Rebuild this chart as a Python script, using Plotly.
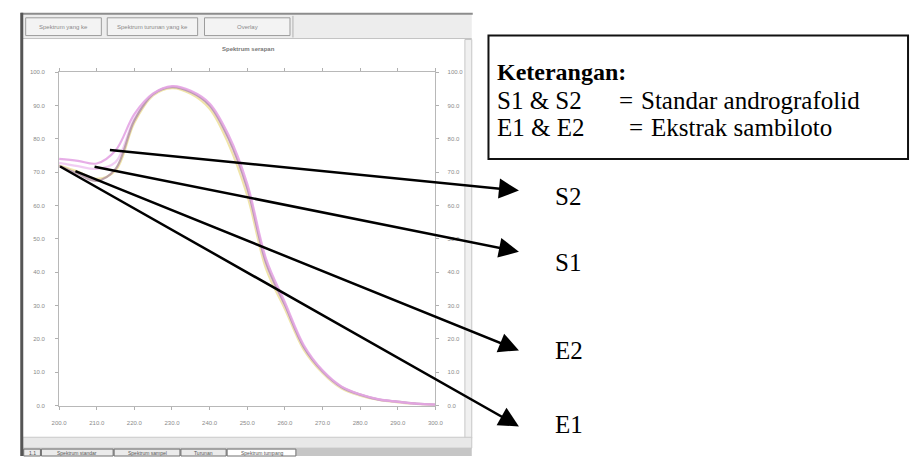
import numpy as np
import plotly.graph_objects as go

W, H = 918, 459

# UV spectra (wavelength in nm, absorbance-like intensity)
wavelength = list(range(200, 301, 5))
s1 = [72.8, 71.8, 71.0, 73.0, 86.0, 93.3, 95.6, 94.0, 90.0, 80.0, 65.0,
      42.5, 30.0, 17.5, 10.2, 5.5, 3.2, 1.8, 1.1, 0.5, 0.2]
s2 = [74.0, 73.4, 72.6, 76.5, 87.4, 93.6, 95.8, 94.4, 90.6, 81.2, 66.5,
      44.0, 31.0, 18.2, 10.6, 5.8, 3.4, 1.9, 1.2, 0.6, 0.3]
e1 = [71.9, 69.5, 67.4, 71.0, 85.5, 93.4, 95.5, 94.0, 90.0, 80.2, 65.2,
      42.8, 30.2, 17.6, 10.3, 5.6, 3.3, 1.8, 1.2, 0.6, 0.3]
e2 = [72.0, 70.2, 68.0, 70.5, 84.8, 93.0, 95.2, 93.5, 89.0, 78.5, 63.0,
      41.0, 29.0, 16.8, 9.8, 5.2, 3.0, 1.7, 1.0, 0.5, 0.2]

x_ticks = list(range(200, 301, 10))
y_ticks = list(range(0, 101, 10))

series = {"E2": e2, "S1": s1, "E1": e1, "S2": s2}
colors = {"E2": "rgba(238,226,160,0.9)", "S1": "rgba(240,200,242,0.9)",
          "E1": "rgba(175,145,160,0.8)", "S2": "rgba(228,165,228,0.9)"}
# wavelength where each pointer arrow leaves its curve
arrow_from = {"S2": 215, "S1": 211, "E2": 206, "E1": 202}
# arrow head / label placement (pixels)
arrow_to = {"S2": (520, 190), "S1": (520, 252), "E2": (520, 352), "E1": (520, 429)}
label_y = {"S2": 196, "S1": 263, "E2": 352, "E1": 427}

# plot area in pixels
PX0, PX1, PY0, PY1 = 52, 435, 70, 408
LEGEND_FONT = 25


def fx(p):
    return p / W


def fy(p):
    return 1 - p / H


def to_px(xv, yv):
    xp = PX0 + (xv - 200) / 100 * (PX1 - PX0)
    yp = PY1 - yv / 100 * (PY1 - PY0)
    return xp, yp


fig = go.Figure()
for name, vals in series.items():
    fig.add_trace(go.Scatter(
        x=wavelength, y=vals, mode="lines", name=name,
        line=dict(color=colors[name], width=2.2, shape="spline", smoothing=1.0),
        hoverinfo="skip", showlegend=False))
# companion trace for the right-hand axis
fig.add_trace(go.Scatter(x=wavelength, y=s2, mode="lines", yaxis="y2",
                         line=dict(color="rgba(0,0,0,0)"), hoverinfo="skip",
                         showlegend=False))

tick_font = dict(family="Arial", size=6, color="#8a8a8a")
axis_common = dict(showgrid=False, zeroline=False, showline=True,
                   linecolor="#b8b8b8", linewidth=1, ticks="outside",
                   ticklen=3, tickcolor="#b0b0b0", tickfont=tick_font,
                   fixedrange=True)

fig.update_layout(
    width=W, height=H, margin=dict(l=0, r=0, t=0, b=0),
    paper_bgcolor="white", plot_bgcolor="white",
    xaxis=dict(domain=[fx(PX0), fx(PX1)], range=[200, 300],
               tickvals=x_ticks, ticktext=[f"{v:.1f}" for v in x_ticks],
               mirror="ticks", ticklabelstandoff=8, **axis_common),
    yaxis=dict(domain=[fy(PY1), fy(PY0)], range=[0, 100],
               tickvals=y_ticks, ticktext=[f"{v:.1f}" for v in y_ticks],
               ticklabelstandoff=9, **axis_common),
    yaxis2=dict(overlaying="y", side="right", anchor="x", range=[0, 100],
                tickvals=y_ticks, ticktext=[f"{v:.1f}" for v in y_ticks],
                ticklabelstandoff=7, **axis_common),
)

shapes = []


def rect(x0, y0, x1, y1, fill, line="rgba(0,0,0,0)", lw=1, layer="below"):
    shapes.append(dict(type="rect", xref="paper", yref="paper",
                       x0=fx(x0), x1=fx(x1), y0=fy(y1), y1=fy(y0),
                       fillcolor=fill, line=dict(color=line, width=lw),
                       layer=layer))


def hline(x0, x1, y, color, lw=1):
    shapes.append(dict(type="line", xref="paper", yref="paper",
                       x0=fx(x0), x1=fx(x1), y0=fy(y), y1=fy(y),
                       line=dict(color=color, width=lw), layer="below"))


def vline(x, y0, y1, color, lw=1):
    shapes.append(dict(type="line", xref="paper", yref="paper",
                       x0=fx(x), x1=fx(x), y0=fy(y0), y1=fy(y1),
                       line=dict(color=color, width=lw), layer="below"))


# application window chrome
rect(15, 11, 472, 36, "#ededed")
hline(13, 473, 11, "#8c8c8c", 2)
hline(15, 472, 36, "#c4c4c4", 1)
for bx0, bx1 in [(18, 95), (101, 193), (200, 287)]:
    rect(bx0, 15, bx1, 33, "#f3f3f3", "#9c9c9c", 1)
vline(290, 13, 35, "#b0b0b0", 1)
rect(465, 37, 472, 441, "#f0f0f0", "#c6c6c6", 1)
rect(15, 440, 472, 451, "#e8e8e8", "#c8c8c8", 1)
rect(15, 451, 472, 459, "#c6c6c6")
tabs = [(16, 33, "1.1"), (34, 107, "Spektrum standar"),
        (108, 175, "Spektrum sampel"), (176, 222, "Turunan"),
        (223, 293, "Spektrum tumpang")]
for i, (tx0, tx1, _) in enumerate(tabs):
    rect(tx0, 452, tx1, 459, "white" if i == len(tabs) - 1 else "#ebebeb",
         "#707070", 1)
vline(14, 10, 459, "#555555", 3)

# legend box
rect(489, 33, 916, 158, "white", "#111111", 2, layer="above")

annotations = []


def text(x, y, s, size, color="black", family="Liberation Serif",
         xanchor="left"):
    annotations.append(dict(xref="paper", yref="paper", x=fx(x), y=fy(y),
                            text=s, showarrow=False, xanchor=xanchor,
                            yanchor="middle",
                            font=dict(family=family, size=size, color=color)))


for (bx0, bx1), lbl in zip([(18, 95), (101, 193), (200, 287)],
                           ["Spektrum yang ke", "Spektrum turunan yang ke",
                            "Overlay"]):
    text((bx0 + bx1) / 2, 24, lbl, 6, "#8a8a8a", "Arial", "center")
text(245, 47, "<b>Spektrum serapan</b>", 6, "#777777", "Arial", "center")
for tx0, tx1, lbl in tabs:
    text((tx0 + tx1) / 2, 455.5, lbl, 5, "#555555", "Arial", "center")

text(496, 70, "<b>Keterangan:</b>", LEGEND_FONT - 1)
text(496, 99, "S1 &amp; S2", LEGEND_FONT)
text(620, 99, "=", LEGEND_FONT)
text(642, 99, "Standar andrografolid", LEGEND_FONT)
text(496, 126, "E1 &amp; E2", LEGEND_FONT)
text(630, 126, "=", LEGEND_FONT)
text(652, 126, "Ekstrak sambiloto", LEGEND_FONT)

for name in ["S2", "S1", "E2", "E1"]:
    xv = arrow_from[name]
    yv = float(np.interp(xv, wavelength, series[name]))
    tx, ty = to_px(xv, yv)
    hx, hy = arrow_to[name]
    annotations.append(dict(xref="paper", yref="paper", x=fx(hx), y=fy(hy),
                            ax=tx - hx, ay=ty - hy, axref="pixel",
                            ayref="pixel", text="", showarrow=True,
                            arrowhead=2, arrowsize=1.6, arrowwidth=2.5,
                            arrowcolor="black", standoff=0))
    text(555, label_y[name], name, LEGEND_FONT)

fig.update_layout(shapes=shapes, annotations=annotations)
fig.write_html("out.html")
